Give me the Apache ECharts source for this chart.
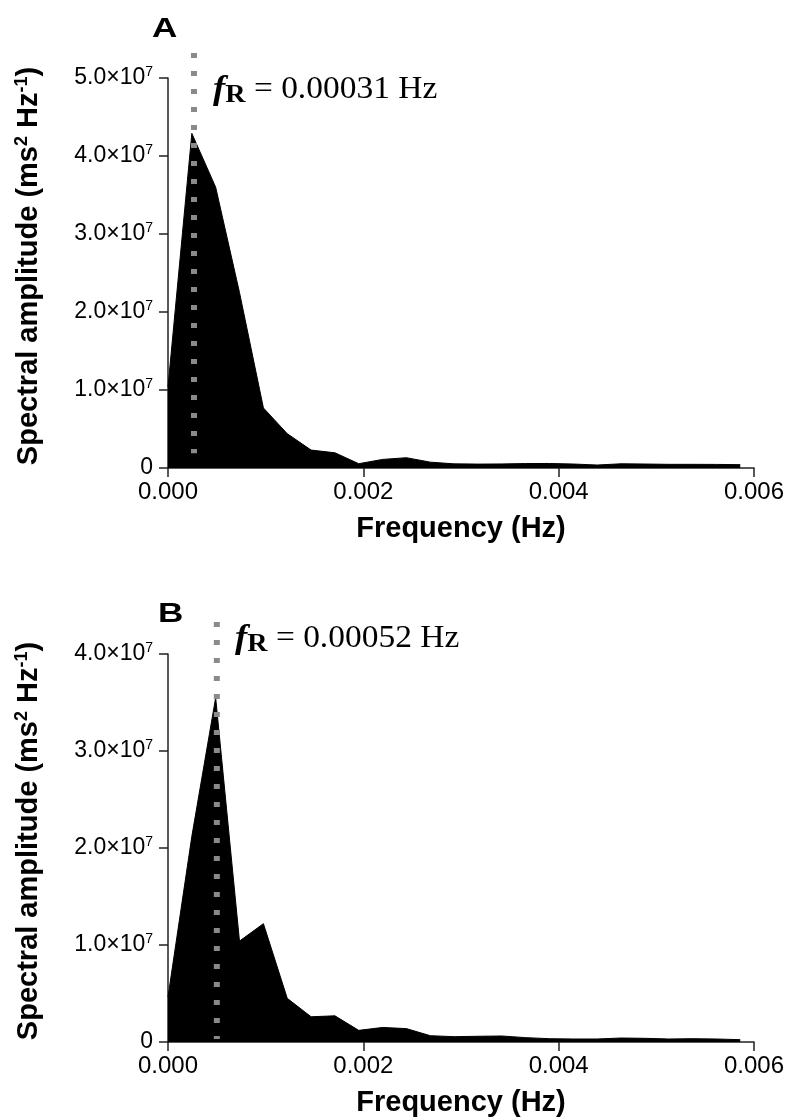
<!DOCTYPE html>
<html>
<head>
<meta charset="utf-8">
<style>
  html, body { margin: 0; padding: 0; background: #fff; }
  #chart { width: 790px; height: 1120px; }
</style>
</head>
<body>
<div id="chart"></div>
<script src="https://cdn.jsdelivr.net/npm/echarts/dist/echarts.min.js"></script>
<script>
// frequency bins (Hz)
var freq = [0, 0.000244, 0.000488, 0.000732, 0.000977, 0.001221, 0.001465, 0.001709, 0.001953,
  0.002197, 0.002441, 0.002686, 0.00293, 0.003174, 0.003418, 0.003662, 0.003906, 0.00415,
  0.004395, 0.004639, 0.004883, 0.005127, 0.005371, 0.005615, 0.005859]

// spectral amplitude, panel A
var ampA = [1.04e7, 4.29e7, 3.60e7, 2.25e7, 7.7e6, 4.4e6, 2.3e6, 1.95e6, 5.5e5,
  1.1e6, 1.32e6, 7.5e5, 5.3e5, 5.0e5, 5.2e5, 5.7e5, 5.8e5, 5.1e5,
  3.8e5, 5.4e5, 5.1e5, 4.7e5, 4.7e5, 4.6e5, 4.3e5]

// spectral amplitude, panel B
var ampB = [4.65e6, 2.12e7, 3.55e7, 1.04e7, 1.22e7, 4.5e6, 2.6e6, 2.7e6, 1.2e6,
  1.5e6, 1.38e6, 6.5e5, 5.5e5, 5.9e5, 6.2e5, 4.5e5, 3.4e5, 3.1e5,
  3.1e5, 4.1e5, 3.8e5, 3.1e5, 3.4e5, 3.1e5, 2.4e5]

// resonance marker (dotted line): frequency and vertical extent
var markA = { f: 0.000266, from: 5.32e7, to: 0.19e7, label: ' = 0.00031 Hz' }
var markB = { f: 0.0005, from: 4.33e7, to: 0.03e7, label: ' = 0.00052 Hz' }

var yMaxA = 5e7
var yMaxB = 4e7
var xTicks = { min: 0, max: 0.006, interval: 0.002 }

function pairs(xs, ys) {
  return xs.map(function (x, i) { return [x, ys[i]] })
}

var axisColor = '#222'
var sans = 'Liberation Sans'
var serif = 'Liberation Serif'

function makeX(idx) {
  return {
    type: 'value',
    gridIndex: idx,
    min: xTicks.min,
    max: xTicks.max,
    interval: xTicks.interval,
    name: 'Frequency (Hz)',
    nameLocation: 'middle',
    nameGap: 46,
    nameTextStyle: { fontFamily: sans, fontWeight: 'bold', fontSize: 29, color: '#000' },
    axisLine: { lineStyle: { color: axisColor, width: 1.5 } },
    axisTick: { length: 9, lineStyle: { color: axisColor, width: 1.5 } },
    axisLabel: {
      margin: 12,
      fontFamily: sans,
      fontSize: 24,
      color: '#000',
      formatter: function (v) { return v.toFixed(3) }
    },
    splitLine: { show: false }
  }
}

function makeY(idx, max) {
  return {
    type: 'value',
    gridIndex: idx,
    min: 0,
    max: max,
    interval: 1e7,
    name: '{t|Spectral amplitude (ms}{s|2}{t| Hz}{s|-1}{t|)}',
    nameLocation: 'middle',
    nameGap: 123,
    nameRotate: 90,
    nameTextStyle: {
      color: '#000',
      padding: [0, 0, 0, 14],
      rich: {
        t: { fontFamily: sans, fontWeight: 'bold', fontSize: 29, lineHeight: 32 },
        s: { fontFamily: sans, fontWeight: 'bold', fontSize: 18, verticalAlign: 'top', lineHeight: 32 }
      }
    },
    axisLine: { lineStyle: { color: axisColor, width: 1.5 } },
    axisTick: { length: 9, lineStyle: { color: axisColor, width: 1.5 } },
    axisLabel: {
      margin: 15,
      color: '#000',
      formatter: function (v) {
        if (v === 0) return '{b|0}'
        return '{b|' + (v / 1e7).toFixed(1) + '×10}{s|7}'
      },
      rich: {
        b: { fontFamily: sans, fontSize: 23, lineHeight: 26 },
        s: { fontFamily: sans, fontSize: 14, verticalAlign: 'top', lineHeight: 26 }
      }
    },
    splitLine: { show: false }
  }
}

function areaSeries(idx, ys) {
  return {
    type: 'line',
    xAxisIndex: idx,
    yAxisIndex: idx,
    data: pairs(freq, ys),
    symbol: 'none',
    lineStyle: { color: '#000', width: 1 },
    areaStyle: { color: '#000', opacity: 1 },
    z: 2
  }
}

function markSeries(idx, m) {
  return {
    type: 'line',
    xAxisIndex: idx,
    yAxisIndex: idx,
    data: [[m.f, m.from], [m.f, m.to]],
    symbol: 'none',
    clip: false,
    lineStyle: { color: '#8a8a8a', width: 6, type: [5, 13], cap: 'butt' },
    z: 3
  }
}

function fLabel(x, y, text) {
  return {
    type: 'text',
    x: x,
    y: y,
    scaleX: 1.08,
    style: {
      text: '{f|f}{r|R}{t|' + text + '}',
      fill: '#000',
      verticalAlign: 'middle',
      align: 'left',
      rich: {
        f: { fontFamily: serif, fontStyle: 'italic', fontWeight: 'bold', fontSize: 34, lineHeight: 36 },
        r: { fontFamily: serif, fontWeight: 'bold', fontSize: 26, lineHeight: 26, verticalAlign: 'bottom' },
        t: { fontFamily: serif, fontSize: 31, lineHeight: 36 }
      }
    }
  }
}

function letter(x, y, text) {
  return {
    type: 'text',
    x: x,
    y: y,
    scaleX: 1.3,
    style: {
      text: '{a|' + text + '}',
      fill: '#000',
      verticalAlign: 'middle',
      align: 'left',
      rich: {
        a: { fontFamily: sans, fontWeight: 'bold', fontSize: 27, lineHeight: 30 }
      }
    }
  }
}

var chart = echarts.init(document.getElementById('chart'))
chart.setOption({
  animation: false,
  backgroundColor: '#fff',
  grid: [
    { left: 168, top: 78, width: 586, height: 390 },
    { left: 168, top: 654, width: 586, height: 388 }
  ],
  xAxis: [makeX(0), makeX(1)],
  yAxis: [makeY(0, yMaxA), makeY(1, yMaxB)],
  series: [
    areaSeries(0, ampA),
    markSeries(0, markA),
    areaSeries(1, ampB),
    markSeries(1, markB)
  ],
  graphic: [
    letter(152, 30, 'A'),
    letter(158, 615, 'B'),
    fLabel(213, 90, markA.label),
    fLabel(235, 639, markB.label)
  ]
})
</script>
</body>
</html>
